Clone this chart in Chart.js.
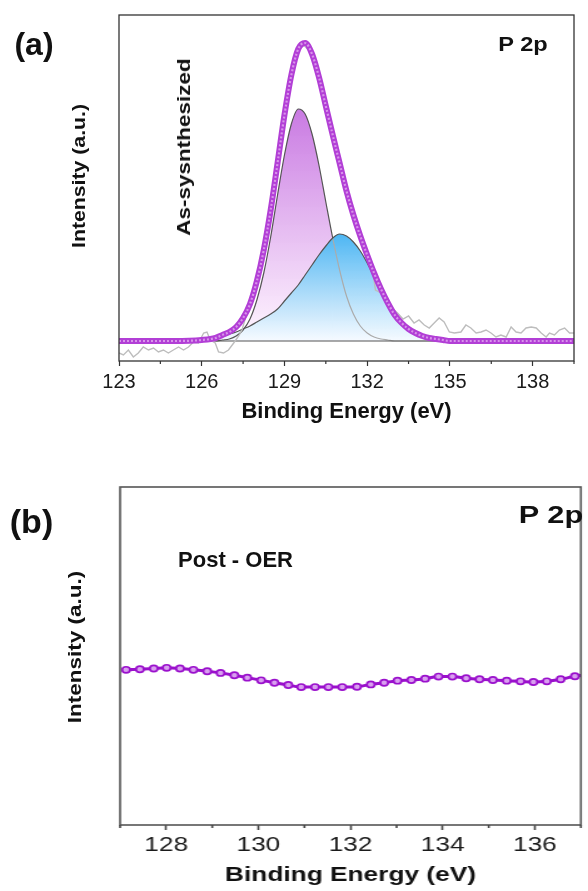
<!DOCTYPE html>
<html>
<head>
<meta charset="utf-8">
<script src="https://cdn.jsdelivr.net/npm/chart.js@4.4.1/dist/chart.umd.min.js"></script>
<style>
html, body { margin: 0; padding: 0; background: #fff; }
body { width: 588px; height: 891px; position: relative; overflow: hidden; font-family: "Liberation Sans", Arial, sans-serif; color: #111; }
canvas { position: absolute; left: 0; }
#chartA { top: 0; }
#chartB { top: 440px; transform-origin: 0 0; transform: scaleX(1.2511); }
.lbl { position: absolute; white-space: nowrap; line-height: 1; font-weight: bold; }
</style>
</head>
<body>
<canvas id="chartA" width="588" height="440"></canvas>
<canvas id="chartB" width="470" height="451"></canvas>

<div class="lbl" style="left:34px;top:44px;font-size:32px;transform:translate(-50%,-50%)">(a)</div>
<div class="lbl" style="left:78.5px;top:175.5px;font-size:18px;transform:translate(-50%,-50%) rotate(-90deg) scaleX(1.18)">Intensity (a.u.)</div>
<div class="lbl" style="left:183.5px;top:146.5px;font-size:18px;transform:translate(-50%,-50%) rotate(-90deg) scaleX(1.25)">As-sysnthesized</div>
<div class="lbl" style="left:523px;top:43.6px;font-size:20.5px;transform:translate(-50%,-50%) scaleX(1.15)">P 2p</div>

<div class="lbl" style="left:31.5px;top:521px;font-size:34px;transform:translate(-50%,-50%)">(b)</div>
<div class="lbl" style="left:550.5px;top:515px;font-size:24px;transform:translate(-50%,-50%) scaleX(1.28)">P 2p</div>
<div class="lbl" style="left:235.5px;top:560px;font-size:22px;transform:translate(-50%,-50%)">Post - OER</div>
<div class="lbl" style="left:75px;top:646.5px;font-size:18px;transform:translate(-50%,-50%) rotate(-90deg) scaleX(1.25)">Intensity (a.u.)</div>

<script>
// (a) as-synthesized, fitted P 2p region
const fitEnergy = [123, 124, 125, 126, 126.5, 126.75, 127, 127.25, 127.5, 127.75, 128, 128.25, 128.5, 128.75,
  129, 129.25, 129.5, 129.75, 130, 130.25, 130.5, 130.75, 131, 131.25, 131.5, 131.75, 132, 132.25, 132.5, 132.75,
  133, 133.25, 133.5, 133.75, 134, 134.25, 134.5, 134.75, 135, 136, 137, 138, 139, 139.5];
const peak1Fit = [0, 0, 0, 0, 0, 1, 2, 5, 11, 22, 41, 68, 104, 146,
  186, 217, 232, 227, 207, 176, 139, 103, 71, 45, 27, 15, 8, 4, 2, 1,
  0, 0, 0, 0, 0, 0, 0, 0, 0, 0, 0, 0, 0, 0];
const peak2Fit = [0, 0, 0, 1, 3, 5, 7, 9, 12, 15, 19, 23, 27, 32,
  40, 48, 56, 66, 76, 86, 95, 103, 107, 105, 99, 90, 78, 64, 50, 37,
  26, 18, 12, 8, 5, 3, 2, 1, 0, 0, 0, 0, 0, 0];
const envelopeFit = [0, 0, 0, 1, 3, 6, 9, 14, 23, 37, 60, 91, 131, 178,
  226, 266, 292, 298, 287, 264, 235, 206, 178, 150, 126, 105, 86, 68, 52, 38,
  26, 18, 12, 8, 5, 3, 2, 1, 0, 0, 0, 0, 0, 0];
const bgEnergy = [126.5, 139.5];
const bgCounts = [0, 0];

const rawEnergy = [123, 123.16, 123.34, 123.52, 123.7, 123.88, 124.07, 124.25, 124.43, 124.61, 124.79, 124.97,
  125.16, 125.34, 125.52, 125.7, 125.88, 126.07, 126.19, 126.31, 126.49, 126.61, 126.79, 126.97, 127.16, 127.34,
  127.46, 127.7, 127.9, 128.1, 128.3, 128.5, 128.7, 128.9, 129.1, 129.3, 129.5, 129.7, 129.9, 130.1, 130.3, 130.5,
  130.7, 130.9, 131.1, 131.3, 131.5, 131.7, 131.9, 132.1, 132.2, 132.3, 132.5, 132.7, 132.9, 133.1, 133.3, 133.5,
  133.7, 133.88, 134.07, 134.25, 134.43, 134.61, 134.79, 134.98, 135.16, 135.4, 135.58, 135.76, 135.95, 136.13,
  136.31, 136.49, 136.67, 136.85, 137.04, 137.22, 137.4, 137.58, 137.76, 137.95, 138.13, 138.31, 138.49, 138.61,
  138.79, 138.97, 139.16, 139.34, 139.5];
const rawCounts = [-12, -14, -9, -16, -12, -6, -9, -7, -11, -9, -12, -9,
  -6, -9, -6, -1, -2, 8, 9, 1, -2, -11, -12, -9, -2, 5,
  11, 34, 52, 72, 99, 130, 170, 210, 243, 272, 290, 296, 290, 277, 258, 236,
  211, 188, 167, 148, 131, 110, 91, 74, 70, 51, 48, 40, 33, 28, 22, 25,
  18, 21, 16, 13, 18, 23, 19, 9, 8, 9, 16, 13, 8, 9,
  11, 8, 4, 6, 4, 14, 9, 8, 13, 14, 13, 8, 4, 8,
  6, 11, 13, 8, 8];

const majorTicksA = [123, 126, 129, 132, 135, 138];
const minorTicksA = [124.5, 127.5, 130.5, 133.5, 136.5, 139.5];

// (b) post-OER
const postEnergy = [127.13, 127.43, 127.73, 128.01, 128.3, 128.59, 128.89, 129.18, 129.48, 129.76, 130.06, 130.35,
  130.65, 130.93, 131.23, 131.52, 131.82, 132.14, 132.44, 132.73, 133.02, 133.32, 133.62, 133.91, 134.21, 134.51,
  134.8, 135.09, 135.39, 135.69, 135.97, 136.26, 136.56, 136.87, 137.16];
const postCounts = [459, 461, 463, 465, 463, 459, 455, 450, 443, 436, 428, 421,
  414, 408, 408, 408, 408, 409, 416, 421, 427, 429, 433, 439, 439, 434,
  431, 429, 427, 425, 423, 425, 431, 440, 445];

const majorTicksB = [128, 130, 132, 134, 136];
const minorTicksB = [127, 129, 131, 133, 135, 137];

const FONT = '"Liberation Sans", Arial, sans-serif';
const pts = (xs, ys) => xs.map((x, i) => ({ x: x, y: ys[i] }));

function fade(top, bottom, peak) {
  return (c) => {
    const { ctx, chartArea, scales } = c.chart;
    if (!chartArea) return top;
    const g = ctx.createLinearGradient(0, scales.y.getPixelForValue(peak), 0, scales.y.getPixelForValue(0));
    g.addColorStop(0, top);
    g.addColorStop(1, bottom);
    return g;
  };
}

const frame = {
  id: 'frame',
  afterDatasetsDraw(chart, args, opts) {
    const { ctx, chartArea: a } = chart;
    ctx.save();
    ctx.strokeStyle = opts.color;
    ctx.lineWidth = opts.width;
    ctx.strokeRect(a.left, a.top, a.right - a.left, a.bottom - a.top);
    ctx.restore();
  }
};

const minorTicks = {
  id: 'minorTicks',
  afterDraw(chart, args, opts) {
    const { ctx, chartArea, scales } = chart;
    ctx.save();
    ctx.strokeStyle = opts.color;
    ctx.lineWidth = opts.width;
    opts.values.forEach(v => {
      const px = scales.x.getPixelForValue(v);
      ctx.beginPath();
      ctx.moveTo(px, chartArea.bottom);
      ctx.lineTo(px, chartArea.bottom + opts.len);
      ctx.stroke();
    });
    ctx.restore();
  }
};

new Chart(document.getElementById('chartA'), {
  type: 'line',
  data: {
    datasets: [
      { data: pts(fitEnergy, envelopeFit), borderColor: '#d894ea', borderWidth: 2.2, borderDash: [2, 2], pointRadius: 0, cubicInterpolationMode: 'monotone', order: 0 },
      { data: pts(fitEnergy, envelopeFit), borderColor: '#b23fd6', borderWidth: 6, pointRadius: 0, cubicInterpolationMode: 'monotone', order: 1 },
      { data: pts(rawEnergy, rawCounts), borderColor: '#bdbdbd', borderWidth: 1.4, pointRadius: 0, tension: 0, order: 2 },
      { data: pts(bgEnergy, bgCounts), borderColor: '#555', borderWidth: 1.2, pointRadius: 0, order: 3 },
      { data: pts(fitEnergy, peak2Fit), borderColor: '#555', borderWidth: 1.2, pointRadius: 0, cubicInterpolationMode: 'monotone',
        fill: { value: 0 }, backgroundColor: fade('#4db6f3', 'rgba(245,250,255,0.95)', Math.max(...peak2Fit)), order: 4 },
      { data: pts(fitEnergy, peak1Fit), borderWidth: 1.2, pointRadius: 0, cubicInterpolationMode: 'monotone',
        segment: { borderColor: s => s.p0.parsed.x >= 130.75 ? '#ababab' : '#555' },
        fill: { value: 0 }, backgroundColor: fade('#c97ae2', 'rgba(255,246,255,0.95)', Math.max(...peak1Fit)), order: 5 }
    ]
  },
  options: {
    responsive: false, animation: false, devicePixelRatio: 1,
    layout: { padding: { left: 119, right: 14, top: 15, bottom: 0 } },
    scales: {
      x: {
        type: 'linear', min: 123, max: 139.5,
        afterBuildTicks: s => { s.ticks = majorTicksA.map(v => ({ value: v })); },
        afterFit: s => { s.height = 79; },
        ticks: { font: { family: FONT, size: 20 }, color: '#1a1a1a', padding: 4, maxRotation: 0, autoSkip: false },
        grid: { drawOnChartArea: false, tickLength: 5, color: '#333', tickWidth: 1.2 },
        border: { display: false },
        title: { display: true, text: 'Binding Energy (eV)', color: '#111', font: { family: FONT, size: 22, weight: 'bold' }, padding: { top: 0, bottom: 15 } }
      },
      y: { display: false, min: -20, max: 326 }
    },
    plugins: {
      legend: { display: false }, tooltip: { enabled: false },
      filler: { drawTime: 'beforeDatasetsDraw' },
      frame: { color: '#333', width: 1.3 },
      minorTicks: { values: minorTicksA, len: 3, color: '#333', width: 1.2 }
    }
  },
  plugins: [frame, minorTicks]
});

new Chart(document.getElementById('chartB'), {
  type: 'line',
  data: {
    datasets: [{
      data: pts(postEnergy, postCounts), borderColor: '#9a10cc', borderWidth: 3,
      pointRadius: 3.1, pointBorderWidth: 1.7, pointBorderColor: '#9a10cc', pointBackgroundColor: '#d9a0ef',
      cubicInterpolationMode: 'monotone'
    }]
  },
  options: {
    responsive: false, animation: false, devicePixelRatio: 1,
    layout: { padding: { left: 96, right: 0, top: 47, bottom: 0 } },
    scales: {
      x: {
        type: 'linear', min: 127, max: 137,
        afterBuildTicks: s => { s.ticks = majorTicksB.map(v => ({ value: v })); },
        afterFit: s => { s.height = 66; },
        ticks: { font: { family: FONT, size: 21 }, color: '#1a1a1a', padding: 3, maxRotation: 0, autoSkip: false },
        grid: { drawOnChartArea: false, tickLength: 5, color: '#444', tickWidth: 1.6 },
        border: { display: false },
        title: { display: true, text: 'Binding Energy (eV)', color: '#111', font: { family: FONT, size: 21, weight: 'bold' }, padding: { top: 0, bottom: 3 } }
      },
      y: { display: false, min: 0, max: 1000 }
    },
    plugins: {
      legend: { display: false }, tooltip: { enabled: false },
      frame: { color: '#555', width: 1.6 },
      minorTicks: { values: minorTicksB, len: 3, color: '#444', width: 1.6 }
    }
  },
  plugins: [frame, minorTicks]
});
</script>
</body>
</html>
